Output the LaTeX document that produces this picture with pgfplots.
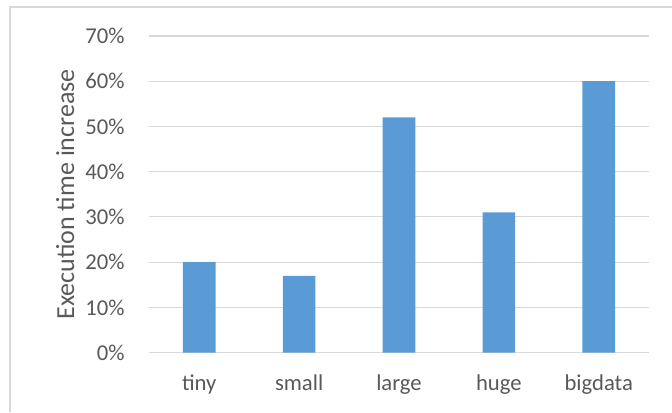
\documentclass[border=0pt]{standalone}
\usepackage{fontspec}
\setmainfont{Carlito}
\usepackage{pgfplots}
\pgfplotsset{compat=1.18}
\definecolor{barblue}{HTML}{5B9BD5}
\definecolor{gridgray}{HTML}{D9D9D9}
\definecolor{txtgray}{HTML}{595959}
\begin{document}
\begin{tikzpicture}
\useasboundingbox (0pt,0pt) rectangle (504pt,309pt);
\draw[gridgray, line width=0.8pt] (7.5pt,0pt) -- (7.5pt,303.75pt) -- (504pt,303.75pt);
\begin{axis}[
  at={(112pt,44.5pt)}, anchor=south west,
  scale only axis, width=374.5pt, height=237.5pt,
  xmin=-0.5, xmax=4.5, ymin=0, ymax=70,
  axis line style={draw=none},
  clip=false,
  xtick=data, xticklabels={tiny,small,large,huge,bigdata},
  ytick={0,10,...,70},
  yticklabel={\pgfmathprintnumber{\tick}\%},
  /pgf/number format/assume math mode=true,
  ymajorgrids, grid style={gridgray, line width=0.8pt},
  major tick length=0pt, tick style={draw=none},
  tick label style={font=\fontsize{17}{20}\selectfont, text=txtgray},
  yticklabel style={xshift=-15pt},
  xticklabel style={yshift=-13pt},
  ylabel={Execution time increase},
  ylabel style={font=\fontsize{19.5}{23}\selectfont, text=txtgray, at={(axis description cs:0,0.5)}, anchor=center, yshift=63pt},
  ybar, bar width=24.5pt,
]
\addplot[fill=barblue, draw=none] coordinates {(0,20) (1,17) (2,52) (3,31) (4,60)};
\end{axis}
\end{tikzpicture}
\end{document}
